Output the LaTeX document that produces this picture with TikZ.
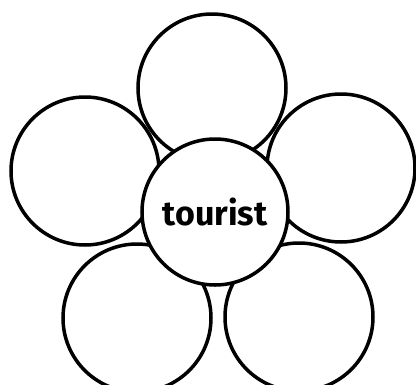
\documentclass[tikz,border=0pt]{standalone}
\usepackage{fontspec}
\setmainfont{Fira Sans}
\begin{document}
\begin{tikzpicture}[x=1pt, y=-1pt,
    petal/.style={circle, draw=black, line width=3.5pt, minimum size=148pt,
                  inner sep=0pt, fill=white},
    heart/.style={petal, minimum size=146pt, font=\fontsize{34}{36}\selectfont\bfseries}]
  \useasboundingbox (0,0) rectangle (416,384);
  \node[petal] (ptop) at (212,88) {};
  \node[petal] (pleft) at (85,171) {};
  \node[petal] (pright) at (341,168) {};
  \node[petal] (pbl) at (137,318) {};
  \node[petal] (pbr) at (299,317) {};
  \node[heart] (centre) at (215,212) {tourist};
\end{tikzpicture}
\end{document}
